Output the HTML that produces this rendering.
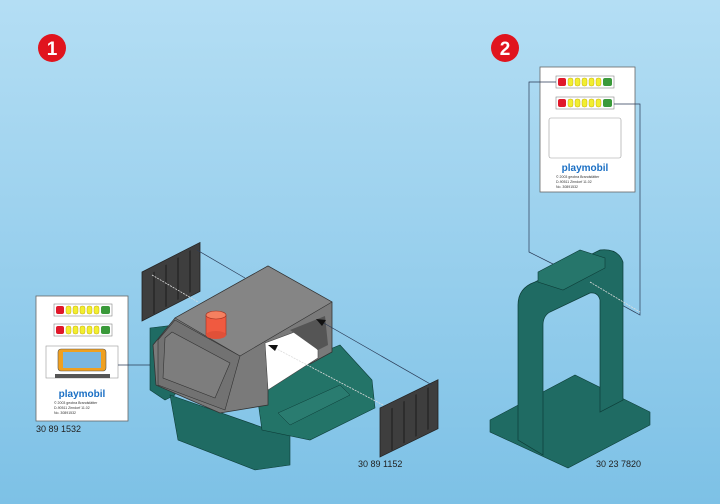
<!DOCTYPE html>
<html><head><meta charset="utf-8"><style>
html,body{margin:0;padding:0;width:720px;height:504px;overflow:hidden}
svg{display:block}
text{font-family:"Liberation Sans",sans-serif}
</style></head><body>
<svg width="720" height="504" viewBox="0 0 720 504" xmlns="http://www.w3.org/2000/svg">
<defs>
<linearGradient id="bg" x1="0" y1="0" x2="0" y2="1">
<stop offset="0" stop-color="#b4def4"/><stop offset="1" stop-color="#7dc1e6"/></linearGradient>
<g id="led">
<rect x="0" y="0" width="58" height="12" fill="#fff" stroke="#888" stroke-width="0.6"/>
<rect x="2" y="2" width="8" height="8" rx="2" fill="#e0182a"/>
<rect x="12" y="2" width="5" height="8" rx="2" fill="#f2ee30" stroke="#b9a000" stroke-width="0.4"/>
<rect x="19" y="2" width="5" height="8" rx="2" fill="#f2ee30" stroke="#b9a000" stroke-width="0.4"/>
<rect x="26" y="2" width="5" height="8" rx="2" fill="#f2ee30" stroke="#b9a000" stroke-width="0.4"/>
<rect x="33" y="2" width="5" height="8" rx="2" fill="#f2ee30" stroke="#b9a000" stroke-width="0.4"/>
<rect x="40" y="2" width="5" height="8" rx="2" fill="#f2ee30" stroke="#b9a000" stroke-width="0.4"/>
<rect x="47" y="2" width="9" height="8" rx="2" fill="#3a9a3a"/>
</g>
<g id="panel">
<rect x="0" y="0" width="58" height="49" fill="#3e3e3e" stroke="#222" stroke-width="0.8"/>
<g stroke="#1c1c1c" stroke-width="1">
<line x1="12" y1="6" x2="12" y2="48"/><line x1="24" y1="5" x2="24" y2="47"/>
<line x1="36" y1="4" x2="36" y2="46"/><line x1="48" y1="3" x2="48" y2="45"/></g>
</g>
</defs>
<rect width="720" height="504" fill="url(#bg)"/>

<circle cx="52" cy="48" r="14" fill="#e0141e"/>
<text x="52" y="55" font-size="19" font-weight="bold" fill="#fff" text-anchor="middle">1</text>
<circle cx="505" cy="48" r="14" fill="#e0141e"/>
<text x="505" y="55" font-size="19" font-weight="bold" fill="#fff" text-anchor="middle">2</text>

<!-- sticker 1 -->
<rect x="36" y="296" width="92" height="125" fill="#fff" stroke="#666" stroke-width="0.8"/>
<use href="#led" x="54" y="304"/>
<use href="#led" x="54" y="324"/>
<rect x="46" y="346" width="72" height="32" fill="#fff" stroke="#999" stroke-width="0.6"/>
<rect x="58" y="349" width="48" height="22" rx="3" fill="#f0a020" stroke="#555" stroke-width="0.6"/>
<rect x="63" y="352" width="38" height="16" fill="#7ab6e0"/>
<rect x="55" y="374" width="55" height="4" fill="#555"/>
<text x="82" y="397" font-size="10" font-weight="bold" fill="#1a6fc4" text-anchor="middle">playmobil</text>
<text x="54" y="404" font-size="3.5" fill="#333">© 2003 geobra Brandstätter</text>
<text x="54" y="409" font-size="3.5" fill="#333">D-90511 Zirndorf      11.02</text>
<text x="54" y="414" font-size="3.5" fill="#333">No. 30891532</text>
<text x="36" y="432" font-size="9" fill="#222">30 89 1532</text>
<line x1="118" y1="365" x2="155" y2="365" stroke="#2a3a55" stroke-width="0.8"/>

<!-- machine green base -->
<polygon points="150,328 175,325 175,395 165,400 150,390" fill="#1f6b63" stroke="#0d3d38" stroke-width="0.6"/>
<polygon points="170,395 270,430 290,420 290,465 255,470 178,440" fill="#1f6b63" stroke="#0d3d38" stroke-width="0.6"/>
<polygon points="255,380 340,345 372,380 375,408 310,440 262,430" fill="#237468" stroke="#0d3d38" stroke-width="0.6"/>
<polygon points="278,413 340,385 350,395 290,425" fill="#2a7c70" stroke="#0d3d38" stroke-width="0.5"/>
<polygon points="282,342 315,328 330,345 300,360" fill="#1f6b63"/>
<!-- gray housing -->
<polygon points="175,318 268,266 332,302 332,352 310,364 300,348 268,365 268,405 220,413 156,385 153,345" fill="#7a7a7a" stroke="#333" stroke-width="0.8"/>
<polygon points="175,318 268,266 332,302 240,356" fill="#858585" stroke="#333" stroke-width="0.6"/>
<polygon points="158,340 175,320 240,356 225,410 158,385" fill="#727272" stroke="#333" stroke-width="0.6"/>
<polygon points="165,338 172,332 230,363 215,398 163,378" fill="#7d7d7d" stroke="#333" stroke-width="0.6"/>
<polygon points="265,343 300,330 318,350 318,358 268,390" fill="#fff" stroke="#444" stroke-width="0.6"/>
<polygon points="290,330 325,316 328,345 318,350" fill="#555"/>
<!-- knob -->
<rect x="206" y="315" width="20" height="20" fill="#f05a40" stroke="#a03020" stroke-width="0.6"/>
<ellipse cx="216" cy="335" rx="10" ry="4" fill="#e05038"/>
<ellipse cx="216" cy="315" rx="10" ry="4" fill="#f58060" stroke="#a03020" stroke-width="0.6"/>

<!-- panels -->
<g transform="translate(142,272) skewY(-27)"><use href="#panel"/></g>
<g transform="translate(380,408) skewY(-26)"><use href="#panel"/></g>
<line x1="197" y1="250" x2="245" y2="278" stroke="#2a3a55" stroke-width="0.7"/>
<line x1="152" y1="275" x2="198" y2="302" stroke="#ddd" stroke-width="0.8" stroke-dasharray="2,1"/>
<line x1="432" y1="385" x2="322" y2="322" stroke="#2a3a55" stroke-width="0.7"/>
<polygon points="316,319 326,320 322,326" fill="#111"/>
<line x1="383" y1="405" x2="275" y2="348" stroke="#ddd" stroke-width="0.8" stroke-dasharray="2,1"/>
<polygon points="268,345 278,345 275,351" fill="#111"/>
<text x="358" y="467" font-size="9" fill="#222">30 89 1152</text>

<!-- sticker 2 -->
<rect x="540" y="67" width="95" height="125" fill="#fff" stroke="#666" stroke-width="0.8"/>
<use href="#led" x="556" y="76"/>
<use href="#led" x="556" y="97"/>
<rect x="549" y="118" width="72" height="40" rx="2" fill="#fff" stroke="#999" stroke-width="0.6"/>
<text x="585" y="171" font-size="10" font-weight="bold" fill="#1a6fc4" text-anchor="middle">playmobil</text>
<text x="556" y="178" font-size="3.5" fill="#333">© 2003 geobra Brandstätter</text>
<text x="556" y="183" font-size="3.5" fill="#333">D-90511 Zirndorf      11.02</text>
<text x="556" y="188" font-size="3.5" fill="#333">No. 30891532</text>
<polyline points="556,82 529,82 529,252 555,265" fill="none" stroke="#2a3a55" stroke-width="0.7"/>
<polyline points="614,104 640,104 640,315 580,282" fill="none" stroke="#2a3a55" stroke-width="0.7"/>

<!-- arch -->
<polygon points="490,420 575,375 650,412 650,425 568,468 490,432" fill="#1f6b63" stroke="#0d3d38" stroke-width="0.6"/>
<path d="M518,440 L518,305 Q518,288 535,282 L600,250 Q618,248 623,262 L623,400 L600,412 L600,300 Q598,292 590,293 L550,312 Q543,316 543,325 L543,455 Z" fill="#1f6b63" stroke="#0d3d38" stroke-width="0.7"/>
<polygon points="538,272 580,250 605,258 605,268 563,290 538,282" fill="#26766b" stroke="#0d3d38" stroke-width="0.6"/>
<line x1="590" y1="282" x2="640" y2="312" stroke="#ddd" stroke-width="0.8" stroke-dasharray="2,1"/>
<text x="596" y="467" font-size="9" fill="#222">30 23 7820</text>
</svg>
</body></html>
